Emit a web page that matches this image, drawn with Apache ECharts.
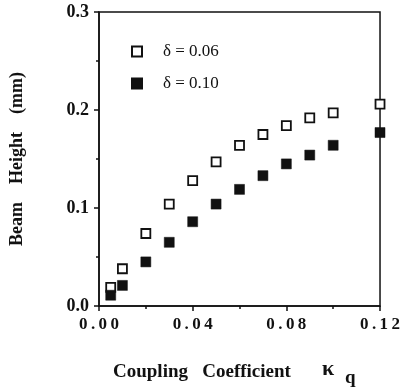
<!DOCTYPE html>
<html>
<head>
<meta charset="utf-8">
<script src="https://cdn.jsdelivr.net/npm/echarts@6/dist/echarts.min.js"></script>
<style>
  html, body { margin: 0; padding: 0; background: #fff; }
  #chart { width: 403px; height: 388px; }
</style>
</head>
<body>
<div id="chart"></div>
<script>
// coupling coefficient κq, and beam height (mm) for two δ values
const kappa = [0.005, 0.01, 0.02, 0.03, 0.04, 0.05, 0.06, 0.07, 0.08, 0.09, 0.10, 0.12];
const heightD006 = [0.019, 0.038, 0.074, 0.104, 0.128, 0.147, 0.164, 0.175, 0.184, 0.192, 0.197, 0.206];
const heightD010 = [0.011, 0.021, 0.045, 0.065, 0.086, 0.104, 0.119, 0.133, 0.145, 0.154, 0.164, 0.177];
const seriesNames = ['δ = 0.06', 'δ = 0.10'];
const xTicks = [0, 0.04, 0.08, 0.12];
const yTicks = [0, 0.1, 0.2, 0.3];

const serif = '"Liberation Serif", "DejaVu Serif", serif';
const chart = echarts.init(document.getElementById('chart'));

const pairs = (ys) => kappa.map((k, i) => [k, ys[i]]);
// wide-tracked tick labels, like the scanned original
const spaced = (s) => s.split('').join('\u2009');

chart.setOption({
  animation: false,
  grid: {
    left: 96, right: 22, top: 12, bottom: 82,
    show: true, borderColor: '#111', borderWidth: 1.5, backgroundColor: 'transparent'
  },
  legend: {
    orient: 'vertical',
    left: 131, top: 43,
    padding: 0,
    itemWidth: 10, itemHeight: 10,
    itemGap: 15,
    textStyle: { fontFamily: serif, fontSize: 17, color: '#111', padding: [0, 0, 0, 16] },
    data: seriesNames.map((n) => ({ name: n, icon: 'rect' }))
  },
  xAxis: {
    type: 'value',
    min: 0, max: 0.12, interval: 0.04,
    axisLine: { lineStyle: { color: '#111', width: 1.5 } },
    axisTick: { show: true, length: 5, lineStyle: { color: '#111', width: 1.5 } },
    minorTick: { show: true, splitNumber: 2, length: 3, lineStyle: { color: '#111', width: 1.5 } },
    splitLine: { show: false },
    axisLabel: {
      margin: 10,
      fontFamily: serif, fontWeight: 'bold', fontSize: 17, color: '#111',
      formatter: (v) => {
        const i = xTicks.findIndex((t) => Math.abs(t - v) < 1e-9);
        return i < 0 ? '' : spaced(xTicks[i].toFixed(2));
      }
    }
  },
  yAxis: {
    type: 'value',
    min: 0, max: 0.3, interval: 0.1,
    name: 'Beam    Height    (mm)',
    nameLocation: 'middle',
    nameRotate: 90,
    nameGap: 73,
    nameTextStyle: { fontFamily: serif, fontWeight: 'bold', fontSize: 18, color: '#111' },
    axisLine: { lineStyle: { color: '#111', width: 1.5 } },
    axisTick: { show: true, length: 5, lineStyle: { color: '#111', width: 1.5 } },
    minorTick: { show: true, splitNumber: 2, length: 3, lineStyle: { color: '#111', width: 1.5 } },
    splitLine: { show: false },
    axisLabel: {
      margin: 10,
      fontFamily: serif, fontWeight: 'bold', fontSize: 18, color: '#111',
      formatter: (v) => {
        const i = yTicks.findIndex((t) => Math.abs(t - v) < 1e-9);
        return i < 0 ? '' : yTicks[i].toFixed(1);
      }
    }
  },
  series: [
    {
      name: seriesNames[0],
      type: 'scatter',
      symbol: 'rect',
      symbolSize: 9,
      clip: false,
      itemStyle: { color: '#fff', borderColor: '#111', borderWidth: 1.8, opacity: 1 },
      data: pairs(heightD006)
    },
    {
      name: seriesNames[1],
      type: 'scatter',
      symbol: 'rect',
      symbolSize: 10,
      clip: false,
      itemStyle: { color: '#111', borderColor: '#111', borderWidth: 0.5, opacity: 1 },
      data: pairs(heightD010)
    }
  ],
  graphic: [
    {
      type: 'text', left: 113, top: 363,
      style: { text: 'Coupling   Coefficient', fontFamily: serif, fontWeight: 'bold', fontSize: 19, fill: '#111' }
    },
    {
      type: 'text', left: 322, top: 358,
      style: { text: 'κ', fontFamily: serif, fontWeight: 'bold', fontSize: 22, fill: '#111' }
    },
    {
      type: 'text', left: 345, top: 369,
      style: { text: 'q', fontFamily: serif, fontWeight: 'bold', fontSize: 19, fill: '#111' }
    }
  ]
});
</script>
</body>
</html>
